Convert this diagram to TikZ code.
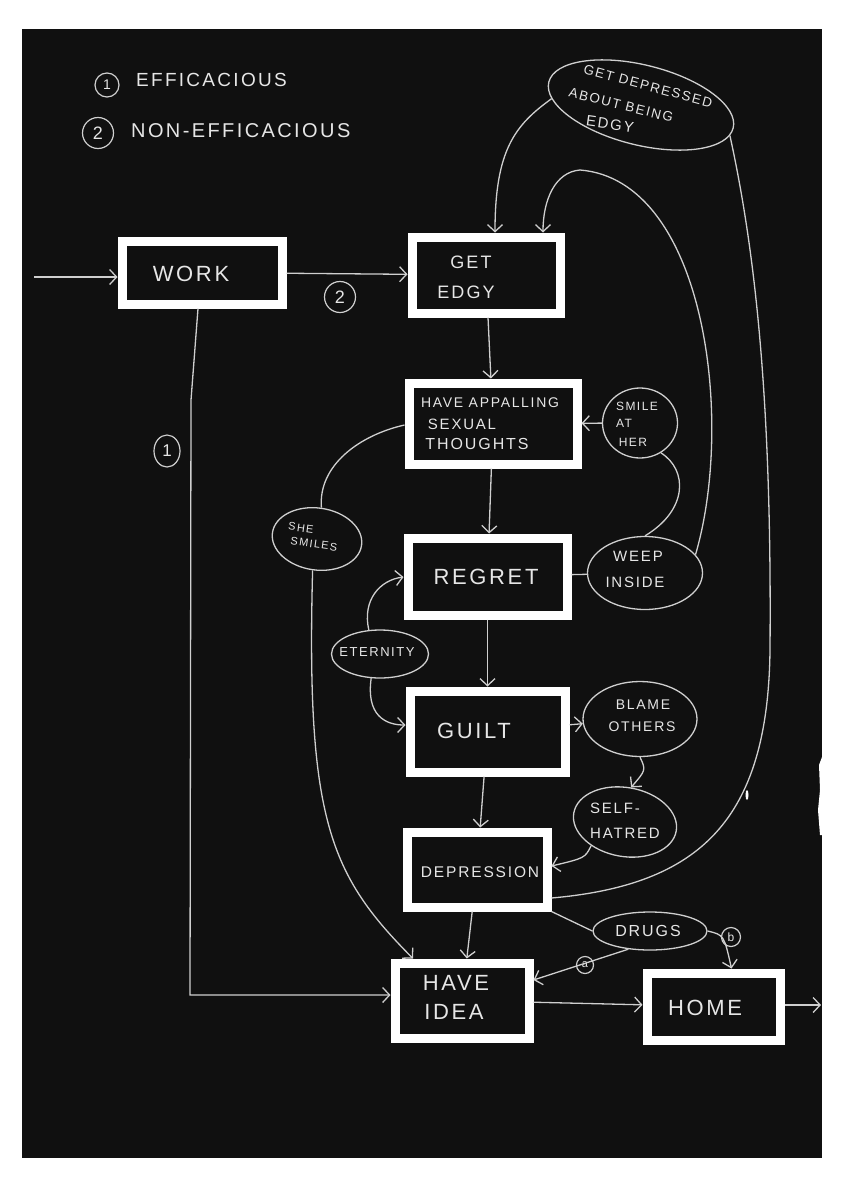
\documentclass[tikz,border=0pt]{standalone}
\usepackage{fontspec}
\setmainfont{Liberation Sans}[LetterSpace=12]
\usetikzlibrary{arrows.meta,shapes.geometric}
\definecolor{bg}{HTML}{101010}
\definecolor{ln}{HTML}{CFCFCF}
\definecolor{tx}{HTML}{E6E6E6}
\newcommand{\fsz}[1]{\fontsize{#1}{#1}\selectfont}
\begin{document}
\begin{tikzpicture}[x=1pt,y=-1pt,
  box/.style={draw=white,line width=9pt,rectangle,inner sep=0pt},
  blob/.style={ellipse,draw=ln,line width=1.3pt,inner sep=0pt},
  circ/.style={circle,draw=ln,line width=1.2pt,inner sep=0pt,text=tx},
  conn/.style={draw=ln,line width=1.3pt},
  arr/.style={-{Straight Barb[length=7pt,width=15pt]}},
  lbl/.style={text=tx,inner sep=0pt}]
\fill[white] (0,0) rectangle (843,1191);
\fill[bg] (22,29) rectangle (822,1158);
\fill[white] (822,757) -- (819,765) -- (820,790) -- (818,810) -- (820,835) -- (822,835) -- cycle;
\fill[white] (747,795) ellipse (1.5 and 5);
\useasboundingbox (0,0) rectangle (843,1191);

% legend
\node[circ,minimum size=24pt] (l1) at (107,85) {\fsz{14}1};
\node[circ,minimum size=31pt] (l2) at (98,133) {\fsz{18}2};
\node[lbl,anchor=west,font=\fsz{19}] (t1) at (136,80) {EFFICACIOUS};
\node[lbl,anchor=west,font=\fsz{20}] (t2) at (131,131) {NON-EFFICACIOUS};

% boxes
\node[box,minimum width=160pt,minimum height=63pt] (work) at (202,272.5) {};
\node[box,minimum width=148pt,minimum height=76pt] (edgy) at (486,275) {};
\node[box,minimum width=168pt,minimum height=81pt] (hapt) at (493,423.5) {};
\node[box,minimum width=159pt,minimum height=77pt] (regret) at (487.5,576.5) {};
\node[box,minimum width=155pt,minimum height=81pt] (guilt) at (487.5,731.5) {};
\node[box,minimum width=140pt,minimum height=75pt] (depr) at (477,869.5) {};
\node[box,minimum width=134pt,minimum height=75pt] (idea) at (462,1000.5) {};
\node[box,minimum width=133pt,minimum height=67pt] (home) at (713.5,1006.5) {};

% box texts
\node[lbl,font=\fsz{22}] (workt) at (191,274) {WORK};
\node[lbl,font=\fsz{18}] (edgyt1) at (471,262) {GET};
\node[lbl,font=\fsz{18}] (edgyt2) at (466,292) {EDGY};
\node[lbl,font=\fsz{14}] (hapt1) at (490,403) {HAVE APPALLING};
\node[lbl,font=\fsz{15}] (hapt2) at (462,424) {SEXUAL};
\node[lbl,font=\fsz{16}] (hapt3) at (477,444) {THOUGHTS};
\node[lbl,font=\fsz{22}] (regrett) at (486,577) {REGRET};
\node[lbl,font=\fsz{22}] (guiltt) at (474,731) {GUILT};
\node[lbl,font=\fsz{15.5}] (deprt) at (480,872) {DEPRESSION};
\node[lbl,font=\fsz{22}] (ideat1) at (456,983) {HAVE};
\node[lbl,font=\fsz{22}] (ideat2) at (454,1012) {IDEA};
\node[lbl,font=\fsz{22}] (homet) at (705,1008) {HOME};

% blobs
\node[blob,minimum width=190pt,minimum height=80pt,rotate=-14] (gd) at (641,105) {};
\node[lbl,font=\fsz{13.5},rotate=-15] (gdt1) at (648,86) {GET DEPRESSED};
\node[lbl,font=\fsz{13.5},rotate=-14] (gdt2) at (621,105) {ABOUT BEING};
\node[lbl,font=\fsz{15},rotate=-8] (gdt3) at (610,124) {EDGY};

\node[blob,minimum width=75pt,minimum height=70pt] (smile) at (640,423) {};
\node[lbl,font=\fsz{12}] (smilet1) at (637,406) {SMILE};
\node[lbl,font=\fsz{12}] (smilet2) at (624,423) {AT};
\node[lbl,font=\fsz{12}] (smilet3) at (633,442) {HER};

\node[blob,minimum width=90pt,minimum height=62pt,rotate=-8] (shes) at (317,539) {};
\node[lbl,font=\fsz{11},rotate=-8] (shest1) at (301,528) {SHE};
\node[lbl,font=\fsz{11},rotate=-8] (shest2) at (314,544) {SMILES};

\node[blob,minimum width=115pt,minimum height=73pt] (weep) at (645,573) {};
\node[lbl,font=\fsz{15}] (weept1) at (638,556) {WEEP};
\node[lbl,font=\fsz{15}] (weept2) at (635,582) {INSIDE};

\node[blob,minimum width=97pt,minimum height=48pt] (etern) at (380,654) {};
\node[lbl,font=\fsz{13}] (eternt) at (377,652) {ETERNITY};

\node[blob,minimum width=114pt,minimum height=75pt] (blame) at (640,719) {};
\node[lbl,font=\fsz{14}] (blamet1) at (643,705) {BLAME};
\node[lbl,font=\fsz{14}] (blamet2) at (642,727) {OTHERS};

\node[blob,minimum width=104pt,minimum height=69pt,rotate=-10] (selfh) at (625,822) {};
\node[lbl,font=\fsz{15}] (selfht1) at (615,808) {SELF-};
\node[lbl,font=\fsz{15}] (selfht2) at (625,833) {HATRED};

\node[blob,minimum width=114pt,minimum height=38pt] (drugs) at (650,931) {};
\node[lbl,font=\fsz{16}] (drugst) at (648,931) {DRUGS};

% circled markers
\node[circ,minimum size=31pt] (n2) at (340,297) {\fsz{18}2};
\node[circ,ellipse,minimum width=26pt,minimum height=32pt] (n1) at (167,451) {\fsz{17}1};
\node[circ,minimum size=17pt] (na) at (585,965) {\fsz{11}a};
\node[circ,minimum size=19pt] (nb) at (731,937) {\fsz{12}b};

% free ends
\coordinate (in) at (34,277);
\coordinate (out) at (821,1005);

% main chain
\draw[conn,arr] (in) -- (in -| work.west);
\draw[conn,arr] (work) -- (edgy);
\draw[conn,arr] ([xshift=-4pt]work.south) -- (191,400) -- (190,995) -- (idea.west |- 0,995);
\draw[conn,arr] (edgy) -- (hapt);
\draw[conn,arr] (hapt) -- (regret);
\draw[conn,arr] (regret) -- (guilt);
\draw[conn,arr] (guilt) -- (depr);
\draw[conn,arr] (depr) -- (idea);
\draw[conn,arr] (idea) -- (home);
\draw[conn,arr] (home.east |- out) -- (out);

% side loops
\draw[conn,arr] (smile) -- (hapt);
\draw[conn] (hapt.west |- 0,425) .. controls (360,435) and (318,465) .. (shes.north);
\draw[conn,arr] (shes.south) .. controls (306,820) and (330,875) .. ([xshift=-49pt]idea.north);
\draw[conn] (regret) -- (weep);
\draw[conn] (weep.north) .. controls (688,510) and (688,470) .. (smile.-55);
\draw[conn,arr] (weep.20) .. controls (735,420) and (705,180) .. (580,170) .. controls (555,172) and (543,200) .. ([xshift=57pt]edgy.north);
\draw[conn,arr] (gd.190) .. controls (515,125) and (495,150) .. ([xshift=9pt]edgy.north);
\draw[conn] (depr.east |- 0,898) .. controls (700,885) and (768,820) .. (770,650) .. controls (772,400) and (755,250) .. (gd.-5);
\draw[conn,arr] (guilt) -- (blame);
\draw[conn,arr] (blame.south) .. controls (646,770) .. (selfh.north);
\draw[conn,arr] (selfh.225) .. controls (585,858) .. (depr.east |- 0,866);
\draw[conn,arr] (etern.250) .. controls (366,715) and (385,725) .. (guilt.west |- 0,725);
\draw[conn,arr] (etern.115) .. controls (362,600) and (380,580) .. (regret.west |- 0,577);
\draw[conn] (depr.south east) -- (drugs.west);
\draw[conn,arr] (drugs.220) -- (idea.east |- 0,980);
\draw[conn,arr] (drugs.east) .. controls (724,935) .. ([xshift=18pt]home.north);
\end{tikzpicture}
\end{document}
